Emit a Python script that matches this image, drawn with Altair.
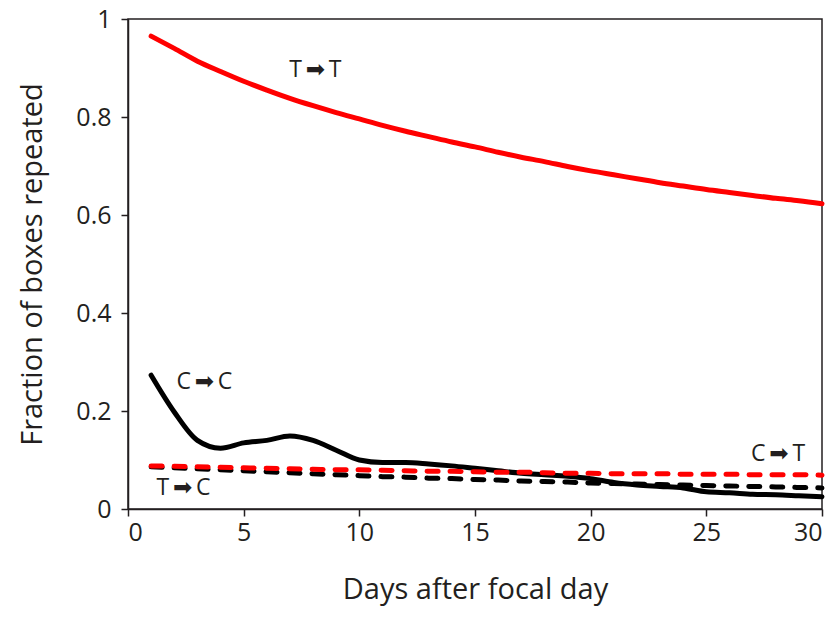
import altair as alt
import pandas as pd

days = list(range(1, 31))

t_to_t = [0.965, 0.940, 0.914, 0.893, 0.873, 0.855, 0.838, 0.823, 0.809, 0.796,
          0.783, 0.771, 0.760, 0.749, 0.739, 0.728, 0.718, 0.709, 0.699, 0.690,
          0.682, 0.674, 0.666, 0.659, 0.652, 0.646, 0.640, 0.634, 0.629, 0.623]
c_to_c = [0.273, 0.198, 0.140, 0.124, 0.135, 0.140, 0.149, 0.140, 0.120, 0.100,
          0.095, 0.095, 0.092, 0.088, 0.083, 0.078, 0.073, 0.070, 0.067, 0.062,
          0.054, 0.049, 0.046, 0.043, 0.035, 0.033, 0.030, 0.029, 0.027, 0.025]
c_to_t = [0.088, 0.087, 0.086, 0.085, 0.084, 0.083, 0.082, 0.081, 0.080, 0.080,
          0.079, 0.078, 0.077, 0.077, 0.076, 0.075, 0.075, 0.074, 0.073, 0.073,
          0.072, 0.072, 0.072, 0.071, 0.071, 0.071, 0.070, 0.070, 0.070, 0.069]
t_to_c = [0.086, 0.084, 0.082, 0.080, 0.078, 0.076, 0.074, 0.072, 0.070, 0.068,
          0.066, 0.065, 0.063, 0.062, 0.060, 0.059, 0.057, 0.056, 0.055, 0.053,
          0.052, 0.051, 0.050, 0.049, 0.048, 0.047, 0.046, 0.045, 0.044, 0.043]

label_text = ["T\u2009\u27a1\u2009T", "C\u2009\u27a1\u2009C", "C\u2009\u27a1\u2009T", "T\u2009\u27a1\u2009C"]
label_day = [8.1, 3.3, 28.1, 2.4]
label_val = [0.895, 0.26, 0.113, 0.042]

FONT = "Open Sans"
TXT = "#231f20"

def series_df(vals):
    return pd.DataFrame({"day": days, "value": vals})

x_enc = alt.X("day:Q", scale=alt.Scale(domain=[0, 30], nice=False),
              axis=alt.Axis(values=[0, 5, 10, 15, 20, 25, 30], title="Days after focal day",
                            titlePadding=30))
y_enc = alt.Y("value:Q", scale=alt.Scale(domain=[0, 1], nice=False),
              axis=alt.Axis(values=[0, 0.2, 0.4, 0.6, 0.8, 1.0], title="Fraction of boxes repeated",
                            labelExpr="datum.value == 0 ? '0' : (datum.value == 1 ? '1' : format(datum.value, '.1f'))",
                            titlePadding=28))

def line(vals, color, dash=None):
    kw = dict(color=color, strokeWidth=5, strokeCap="round", interpolate="monotone")
    if dash:
        kw["strokeDash"] = dash
    return alt.Chart(series_df(vals)).mark_line(**kw).encode(x=x_enc, y=y_enc)

lines = alt.layer(
    line(c_to_c, "#000000"),
    line(t_to_c, "#000000", [11, 12]),
    line(c_to_t, "#ff0000", [11, 12]),
    line(t_to_t, "#ff0000"),
)

labels = alt.Chart(pd.DataFrame({"t": label_text, "day": label_day, "value": label_val})).mark_text(
    font=FONT + ", DejaVu Sans", fontSize=23, color=TXT, align="center", baseline="middle"
).encode(x="day:Q", y="value:Q", text="t:N")

chart = alt.layer(lines, labels).properties(
    width=694, height=490,
    autosize=alt.AutoSizeParams(type="none"),
    padding={"left": 120, "top": 11, "right": 9, "bottom": 100},
).configure_view(stroke="#231f20", strokeWidth=1.5).configure_axis(
    labelFont=FONT, titleFont=FONT, labelFontSize=25, titleFontSize=29,
    labelColor=TXT, titleColor=TXT, titleFontWeight="normal",
    domainColor="#231f20", domainWidth=1.5, tickColor="#231f20", tickWidth=1.5,
    tickSize=7, grid=False,
).configure_axisX(labelPadding=4).configure_axisY(labelPadding=10)

chart.save("out.html", embed_options={"renderer": "svg", "actions": False})
